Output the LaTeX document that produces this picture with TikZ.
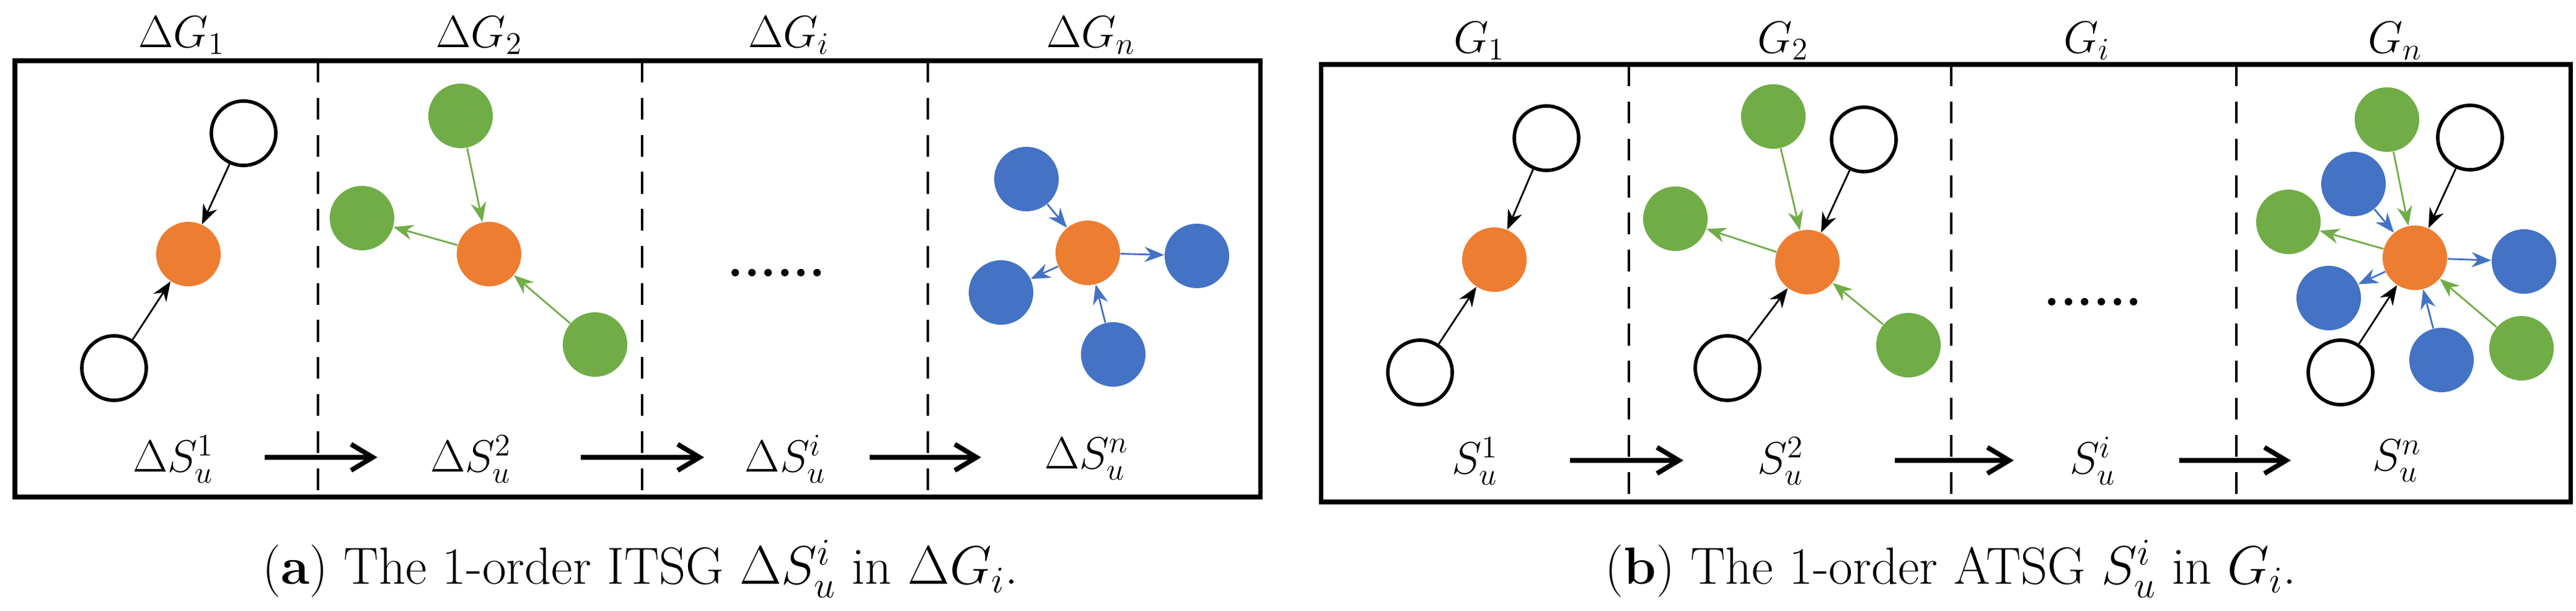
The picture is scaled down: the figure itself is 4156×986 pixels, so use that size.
\documentclass[tikz,border=0pt]{standalone}
\usetikzlibrary{arrows.meta}
\definecolor{cor}{HTML}{ED7D31}
\definecolor{cgr}{HTML}{70AD47}
\definecolor{cbl}{HTML}{4472C4}
\begin{document}
\begin{tikzpicture}[x=0.01cm,y=-0.01cm,
  nd/.style={circle,minimum size=1.04cm,inner sep=0pt},
  w/.style={nd,draw=black,line width=1.6pt,fill=white},
  o/.style={nd,fill=cor},
  g/.style={nd,fill=cgr},
  b/.style={nd,fill=cbl},
  e/.style={-{Stealth[length=9pt,width=7pt]},line width=0.8pt},
  eg/.style={e,cgr}, eb/.style={e,cbl},
  big/.style={-{Straight Barb[length=10pt,width=12pt]},line width=2.2pt},
  box/.style={line width=2pt},
  dl/.style={line width=1.3pt,dash pattern=on 10pt off 7pt},
  lab/.style={font=\fontsize{21}{24}\selectfont},
  dots/.style={font=\fontsize{24}{26}\selectfont\bfseries},
  captxt/.style={font=\fontsize{24}{27}\selectfont}]
\useasboundingbox (0,0) rectangle (4156,986);
% ---------- panel a
\draw[box] (24,98) rectangle (2033,802);
\foreach \x in {513,1036,1497} \draw[dl] (\x,98) -- (\x,802);
\node[lab] (ta1) at (293,57) {$\Delta G_1$};
\node[lab] (ta2) at (773,57) {$\Delta G_2$};
\node[lab] (ta3) at (1273,57) {$\Delta G_i$};
\node[lab] (ta4) at (1760,57) {$\Delta G_n$};
\node[w] (a1w1) at (393,215) {};
\node[o] (a1o) at (304,410) {};
\node[w] (a1w2) at (184,594) {};
\draw[e] (a1w1) -- (a1o); \draw[e] (a1w2) -- (a1o);
\node[g] (a2g1) at (743,187) {};
\node[g] (a2g2) at (584,352) {};
\node[o] (a2o) at (789,410) {};
\node[g] (a2g3) at (960,556) {};
\draw[eg] (a2g1) -- (a2o); \draw[eg] (a2o) -- (a2g2); \draw[eg] (a2g3) -- (a2o);
\node[dots] (adots) at (1253,440) {......};
\node[o] (ano) at (1755,408) {};
\node[b] (anb1) at (1656,289) {};
\node[b] (anb2) at (1931,413) {};
\node[b] (anb3) at (1615,472) {};
\node[b] (anb4) at (1796,572) {};
\draw[eb] (anb1) -- (ano); \draw[eb] (ano) -- (anb2); \draw[eb] (ano) -- (anb3); \draw[eb] (anb4) -- (ano);
\node[lab] (sa1) at (280,741) {$\Delta S_u^1$};
\node[lab] (sa2) at (760,741) {$\Delta S_u^2$};
\node[lab] (sa3) at (1267,741) {$\Delta S_u^i$};
\node[lab] (sa4) at (1753,741) {$\Delta S_u^n$};
\coordinate (aa1) at (427,738); \coordinate (ab1) at (609,738);
\coordinate (aa2) at (937,738); \coordinate (ab2) at (1136,738);
\coordinate (aa3) at (1403,738); \coordinate (ab3) at (1583,738);
\draw[big] (aa1) -- (ab1); \draw[big] (aa2) -- (ab2); \draw[big] (aa3) -- (ab3);
\node[captxt] (capa) at (1033,918) {(\textbf{a}) The 1-order ITSG $\Delta S_u^i$ in $\Delta G_i$.};
% ---------- panel b
\draw[box] (2131,104) rectangle (4147,810);
\foreach \x in {2628,3148,3608} \draw[dl] (\x,104) -- (\x,810);
\node[lab] (tb1) at (2387,66) {$G_1$};
\node[lab] (tb2) at (2877,66) {$G_2$};
\node[lab] (tb3) at (3367,66) {$G_i$};
\node[lab] (tb4) at (3864,66) {$G_n$};
\node[w] (b1w1) at (2495,223) {};
\node[o] (b1o) at (2411,419) {};
\node[w] (b1w2) at (2291,601) {};
\draw[e] (b1w1) -- (b1o); \draw[e] (b1w2) -- (b1o);
\node[g] (b2g1) at (2861,188) {};
\node[w] (b2w1) at (3007,225) {};
\node[g] (b2g2) at (2703,353) {};
\node[o] (b2o) at (2916,423) {};
\node[w] (b2w2) at (2787,594) {};
\node[g] (b2g3) at (3079,557) {};
\draw[eg] (b2g1) -- (b2o); \draw[e] (b2w1) -- (b2o); \draw[eg] (b2o) -- (b2g2);
\draw[e] (b2w2) -- (b2o); \draw[eg] (b2g3) -- (b2o);
\node[dots] (bdots) at (3377,487) {......};
\node[g] (bng1) at (3851,193) {};
\node[w] (bnw1) at (3985,222) {};
\node[b] (bnb1) at (3797,297) {};
\node[g] (bng2) at (3692,358) {};
\node[b] (bnb2) at (4072,422) {};
\node[b] (bnb3) at (3757,481) {};
\node[w] (bnw2) at (3776,601) {};
\node[b] (bnb4) at (3939,581) {};
\node[g] (bng3) at (4068,562) {};
\node[o] (bno) at (3896,416) {};
\draw[eg] (bng1) -- (bno); \draw[e] (bnw1) -- (bno); \draw[eb] (bnb1) -- (bno);
\draw[eg] (bno) -- (bng2); \draw[eb] (bno) -- (bnb2); \draw[eb] (bno) -- (bnb3);
\draw[e] (bnw2) -- (bno); \draw[eb] (bnb4) -- (bno); \draw[eg] (bng3) -- (bno);
\node[lab] (sb1) at (2380,744) {$S_u^1$};
\node[lab] (sb2) at (2873,744) {$S_u^2$};
\node[lab] (sb3) at (3376,744) {$S_u^i$};
\node[lab] (sb4) at (3867,744) {$S_u^n$};
\coordinate (ba1) at (2533,743); \coordinate (bb1) at (2716,743);
\coordinate (ba2) at (3057,743); \coordinate (bb2) at (3249,743);
\coordinate (ba3) at (3516,743); \coordinate (bb3) at (3696,743);
\draw[big] (ba1) -- (bb1); \draw[big] (ba2) -- (bb2); \draw[big] (ba3) -- (bb3);
\node[captxt] (capb) at (3147,918) {(\textbf{b}) The 1-order ATSG $S_u^i$ in $G_i$.};
\end{tikzpicture}
\end{document}
